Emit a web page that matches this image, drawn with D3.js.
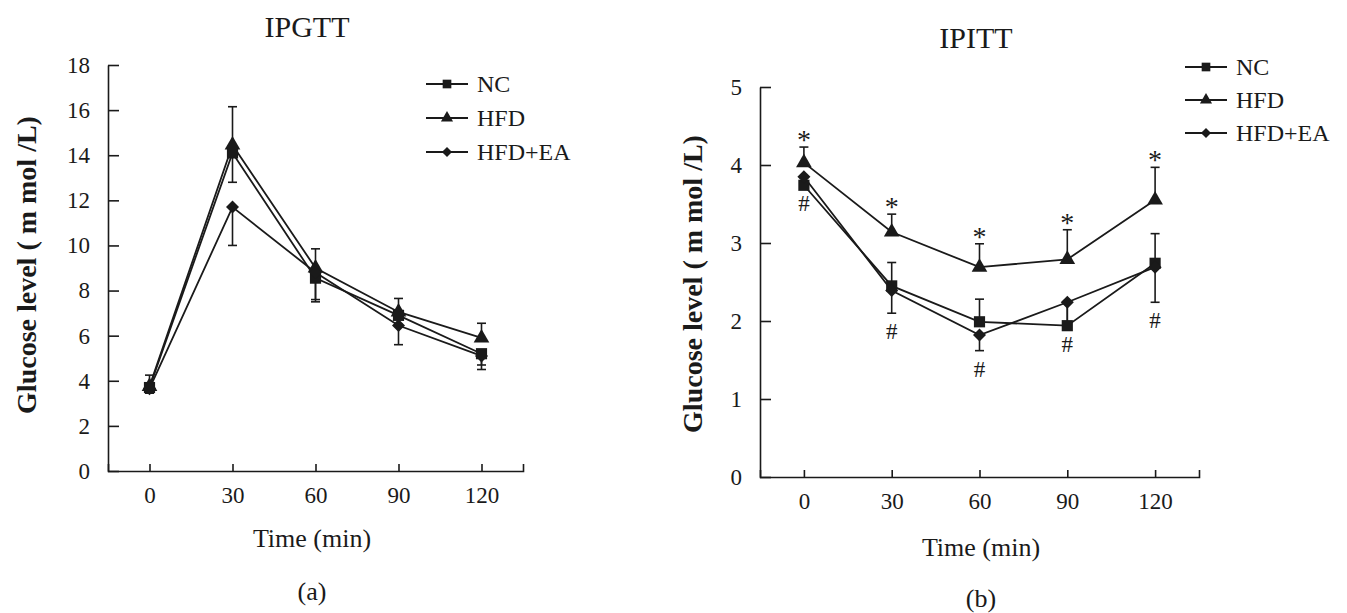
<!DOCTYPE html>
<html>
<head>
<meta charset="utf-8">
<script src="https://cdn.jsdelivr.net/npm/d3@7"></script>
<style>
  body { margin: 0; background: #fff; }
  svg text { font-family: "Liberation Serif", "Times New Roman", Times, serif !important; fill: #1a1a1a; }
</style>
</head>
<body>
<div id="chart"></div>
<script>
// time points (min)
var times = [0, 30, 60, 90, 120];
var seriesNames = ["NC", "HFD", "HFD+EA"];

// IPGTT values (mmol/L)
var gttNC = [3.7, 14.1, 8.55, 6.9, 5.2];
var gttHFD = [3.75, 14.45, 9.0, 7.05, 5.9];
var gttEA = [3.65, 11.7, 8.8, 6.45, 5.1];
// error bars (only one side visible per series)
var gttNCdown = [0.2, 1.3, 1.05, 0.4, 0.5];
var gttHFDup = [0.5, 1.7, 0.85, 0.6, 0.65];
var gttEAdown = [0.2, 1.7, 1.2, 0.85, 0.6];
var gttTicks = [0, 2, 4, 6, 8, 10, 12, 14, 16, 18];

// IPITT values (mmol/L)
var ittNC = [3.74, 2.45, 1.99, 1.94, 2.74];
var ittHFD = [4.03, 3.14, 2.69, 2.79, 3.55];
var ittEA = [3.85, 2.39, 1.82, 2.24, 2.69];
var ittNCup = [0.1, 0.3, 0.29, 0.3, 0.38];
var ittHFDup = [0.2, 0.23, 0.3, 0.38, 0.42];
var ittEAdown = [0.1, 0.29, 0.2, 0.3, 0.45];
var ittTicks = [0, 1, 2, 3, 4, 5];
var ittStars = ["*", "*", "*", "*", "*"];
var ittHashes = ["#", "#", "#", "#", "#"];

var svg = d3.select("#chart").append("svg")
  .attr("width", 1347).attr("height", 613);

var ink = "#1a1a1a";
var serif = "Liberation Serif";
var shapes = {
  "NC": function(s) { return d3.symbol(d3.symbolSquare, s)(); },
  "HFD": function(s) { return d3.symbol(d3.symbolTriangle, s * 0.85)(); },
  "HFD+EA": function(s) { return d3.symbol(d3.symbolSquare, s * 0.68)(); }
};
var rotate = { "NC": 0, "HFD": 0, "HFD+EA": 45 };

function makechart(cfg) {
  var x = d3.scaleLinear().domain([-15, 135]).range([cfg.x0, cfg.x1]);
  var y = d3.scaleLinear().domain([0, cfg.ymax]).range([cfg.y0, cfg.y1]);
  var g = svg.append("g");

  // axes
  var xa = g.append("g").attr("transform", "translate(0," + cfg.y0 + ")")
    .call(d3.axisBottom(x).tickValues(times).tickSizeInner(-7).tickSizeOuter(-7).tickPadding(16));
  var ya = g.append("g").attr("transform", "translate(" + cfg.x0 + ",0)")
    .call(d3.axisLeft(y).tickValues(cfg.ticks).tickFormat(d3.format("d"))
      .tickSizeInner(-11).tickSizeOuter(0).tickPadding(18));
  [xa, ya].forEach(function(a) {
    a.attr("font-family", serif);
    a.select(".domain").attr("stroke", ink).attr("stroke-width", 1.6);
    a.selectAll(".tick line").attr("stroke", ink).attr("stroke-width", 1.6);
    a.selectAll(".tick text").attr("font-size", 23).attr("fill", ink);
  });

  var line = d3.line().x(function(d, i) { return x(times[i]); }).y(function(d) { return y(d); });

  cfg.series.forEach(function(s) {
    g.append("path").datum(s.values).attr("d", line)
      .attr("fill", "none").attr("stroke", ink).attr("stroke-width", 1.8);
  });

  // error bars
  cfg.series.forEach(function(s) {
    s.values.forEach(function(v, i) {
      var e = s.err[i] * s.dir;
      var xx = x(times[i]);
      g.append("line").attr("x1", xx).attr("x2", xx).attr("y1", y(v)).attr("y2", y(v + e))
        .attr("stroke", ink).attr("stroke-width", 1.6);
      g.append("line").attr("x1", xx - 4.5).attr("x2", xx + 4.5).attr("y1", y(v + e)).attr("y2", y(v + e))
        .attr("stroke", ink).attr("stroke-width", 1.6);
    });
  });

  // markers
  cfg.series.forEach(function(s) {
    g.selectAll(null).data(s.values).enter().append("path")
      .attr("d", shapes[s.name](125))
      .attr("transform", function(d, i) {
        return "translate(" + x(times[i]) + "," + y(d) + ") rotate(" + rotate[s.name] + ")";
      })
      .attr("fill", ink);
  });

  // legend
  seriesNames.forEach(function(n, i) {
    var ly = cfg.legY + i * cfg.legStep;
    g.append("line").attr("x1", cfg.legX).attr("x2", cfg.legX + 42).attr("y1", ly).attr("y2", ly)
      .attr("stroke", ink).attr("stroke-width", 1.8);
    g.append("path").attr("d", shapes[n](75))
      .attr("transform", "translate(" + (cfg.legX + 21) + "," + ly + ") rotate(" + rotate[n] + ")")
      .attr("fill", ink);
    g.append("text").attr("x", cfg.legX + 51).attr("y", ly + 8)
      .attr("font-family", serif).attr("font-size", 24).text(n);
  });

  // titles
  g.append("text").attr("x", cfg.titleX).attr("y", cfg.titleY).attr("text-anchor", "middle")
    .attr("font-family", serif).attr("font-size", 30).text(cfg.title);
  g.append("text").attr("x", cfg.xlabX).attr("y", cfg.xlabY).attr("text-anchor", "middle")
    .attr("font-family", serif).attr("font-size", 26).text("Time (min)");
  g.append("text").attr("x", cfg.xlabX).attr("y", cfg.capY).attr("text-anchor", "middle")
    .attr("font-family", serif).attr("font-size", 26).text(cfg.caption);
  g.append("text")
    .attr("transform", "translate(" + cfg.ylabX + "," + cfg.ylabY + ") rotate(-90)")
    .attr("text-anchor", "middle").attr("font-family", serif)
    .attr("font-size", 28).attr("font-weight", "bold")
    .text("Glucose level ( m mol /L)");

  return { x: x, y: y, g: g };
}

var a = makechart({
  x0: 108, x1: 523, y0: 471, y1: 65, ymax: 18, ticks: gttTicks,
  series: [
    { name: "NC", values: gttNC, err: gttNCdown, dir: -1 },
    { name: "HFD", values: gttHFD, err: gttHFDup, dir: 1 },
    { name: "HFD+EA", values: gttEA, err: gttEAdown, dir: -1 }
  ],
  legX: 426, legY: 84, legStep: 34,
  title: "IPGTT", titleX: 307, titleY: 37,
  xlabX: 312, xlabY: 547, capY: 600, caption: "(a)",
  ylabX: 36, ylabY: 265
});

var b = makechart({
  x0: 760, x1: 1199, y0: 477, y1: 87, ymax: 5, ticks: ittTicks,
  series: [
    { name: "NC", values: ittNC, err: ittNCup, dir: 1 },
    { name: "HFD", values: ittHFD, err: ittHFDup, dir: 1 },
    { name: "HFD+EA", values: ittEA, err: ittEAdown, dir: -1 }
  ],
  legX: 1185, legY: 67, legStep: 33,
  title: "IPITT", titleX: 976, titleY: 48,
  xlabX: 981, xlabY: 556, capY: 607, caption: "(b)",
  ylabX: 702, ylabY: 284
});

// significance marks on IPITT
ittStars.forEach(function(t, i) {
  b.g.append("text").attr("x", b.x(times[i])).attr("y", b.y(ittHFD[i] + ittHFDup[i]) + 2)
    .attr("text-anchor", "middle").attr("font-family", serif).attr("font-size", 28).text(t);
});
ittHashes.forEach(function(t, i) {
  var low = Math.min(ittNC[i], ittEA[i] - ittEAdown[i]);
  b.g.append("text").attr("x", b.x(times[i])).attr("y", b.y(low) + 26)
    .attr("text-anchor", "middle").attr("font-family", serif).attr("font-size", 23).text(t);
});
</script>
</body>
</html>
